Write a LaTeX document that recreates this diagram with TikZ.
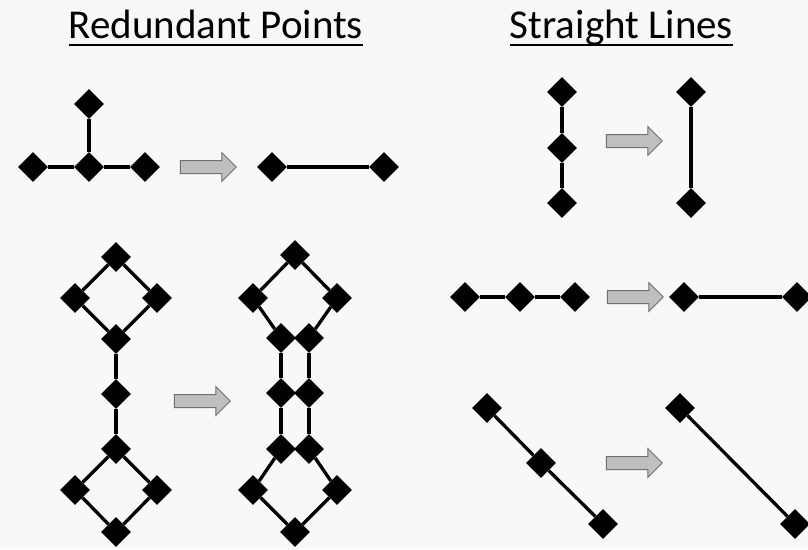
\documentclass[tikz,border=0pt]{standalone}
\usepackage{fontspec}
\setmainfont{Carlito}
\usetikzlibrary{shapes.geometric,shapes.arrows}

\definecolor{paper}{HTML}{F8F8F8}
\definecolor{arrowfill}{HTML}{BFBFBF}
\definecolor{arrowline}{HTML}{707070}

\tikzset{
  vtx/.style={diamond,fill=black,inner sep=0pt,minimum size=30pt},
  edge/.style={line width=3.3pt},
  blockarrow/.style={single arrow,fill=arrowfill,draw=arrowline,line width=1pt,
    inner sep=6pt,minimum height=56pt,single arrow head extend=8pt,
    single arrow head indent=0pt},
  heading/.style={font=\fontsize{41}{41}\selectfont,inner sep=0pt,anchor=base},
  underl/.style={line width=2pt}
}

\begin{document}
\begin{tikzpicture}[x=1pt,y=-1pt]
\fill[paper] (0,0) rectangle (808,549);
\useasboundingbox (0,0) rectangle (808,549);
\begin{scope}
\clip (0,0) rectangle (808,549);

% headings
\node[heading] (h1) at (216,38) {Redundant Points};
\draw[underl] ([yshift=-7pt]h1.base west) -- ([yshift=-7pt]h1.base east);
\node[heading] (h2) at (621.5,38) {Straight Lines};
\draw[underl] ([yshift=-7pt]h2.base west) -- ([yshift=-7pt]h2.base east);

% T junction
\node[vtx] (ta) at (89,104) {};
\node[vtx] (tl) at (33,167) {};
\node[vtx] (tc) at (89,167) {};
\node[vtx] (tr) at (145,167) {};
\draw[edge] (tl) -- (tc) -- (tr);
\draw[edge] (tc) -- (ta);
\node[blockarrow] (ar1) at (205,167) {};
\node[vtx] (ul) at (272,167) {};
\node[vtx] (ur) at (384,167) {};
\draw[edge] (ul) -- (ur);

% two loops joined by a chain
\node[vtx] (p1) at (116,257) {};
\node[vtx] (p2) at (75,298) {};
\node[vtx] (p3) at (157,298) {};
\node[vtx] (p4) at (116,339) {};
\node[vtx] (p5) at (116,394) {};
\node[vtx] (p6) at (116,449) {};
\node[vtx] (p7) at (75,490) {};
\node[vtx] (p8) at (157,490) {};
\node[vtx] (p9) at (116,532) {};
\draw[edge] (p1) -- (p2) -- (p4) -- (p3) -- (p1);
\draw[edge] (p4) -- (p5) -- (p6);
\draw[edge] (p6) -- (p7) -- (p9) -- (p8) -- (p6);
\node[blockarrow] (ar2) at (199,401) {};

% loops joined by a double chain
\node[vtx] (q1) at (295,255) {};
\node[vtx] (q2) at (253,298) {};
\node[vtx] (q3) at (337,298) {};
\node[vtx] (q4l) at (281,338) {};
\node[vtx] (q4r) at (309,338) {};
\node[vtx] (q5l) at (281,393) {};
\node[vtx] (q5r) at (309,393) {};
\node[vtx] (q6l) at (281,449) {};
\node[vtx] (q6r) at (309,449) {};
\node[vtx] (q7) at (253,490) {};
\node[vtx] (q8) at (337,490) {};
\node[vtx] (q9) at (295,532) {};
\draw[edge] (q4l) -- (q2) -- (q1) -- (q3) -- (q4r);
\draw[edge] (q4l) -- (q5l) -- (q6l);
\draw[edge] (q4r) -- (q5r) -- (q6r);
\draw[edge] (q6l) -- (q7) -- (q9) -- (q8) -- (q6r);

% vertical line
\node[vtx] (v1) at (562,92) {};
\node[vtx] (v2) at (562,148) {};
\node[vtx] (v3) at (562,203) {};
\draw[edge] (v1) -- (v2) -- (v3);
\node[blockarrow] (ar3) at (631,141) {};
\node[vtx] (w1) at (691,92) {};
\node[vtx] (w2) at (691,203) {};
\draw[edge] (w1) -- (w2);

% horizontal line
\node[vtx] (h1a) at (465,297) {};
\node[vtx] (h1b) at (520,297) {};
\node[vtx] (h1c) at (575,297) {};
\draw[edge] (h1a) -- (h1b) -- (h1c);
\node[blockarrow] (ar4) at (632,297) {};
\node[vtx] (k1) at (684,297) {};
\node[vtx] (k2) at (797,297) {};
\draw[edge] (k1) -- (k2);

% diagonal line
\node[vtx] (d1) at (487,408) {};
\node[vtx] (d2) at (541,463) {};
\node[vtx] (d3) at (603,524) {};
\draw[edge] (d1) -- (d2) -- (d3);
\node[blockarrow] (ar5) at (631,463) {};
\node[vtx] (e1) at (680,408) {};
\node[vtx] (e2) at (795,524) {};
\draw[edge] (e1) -- (e2);
\end{scope}
\end{tikzpicture}
\end{document}
